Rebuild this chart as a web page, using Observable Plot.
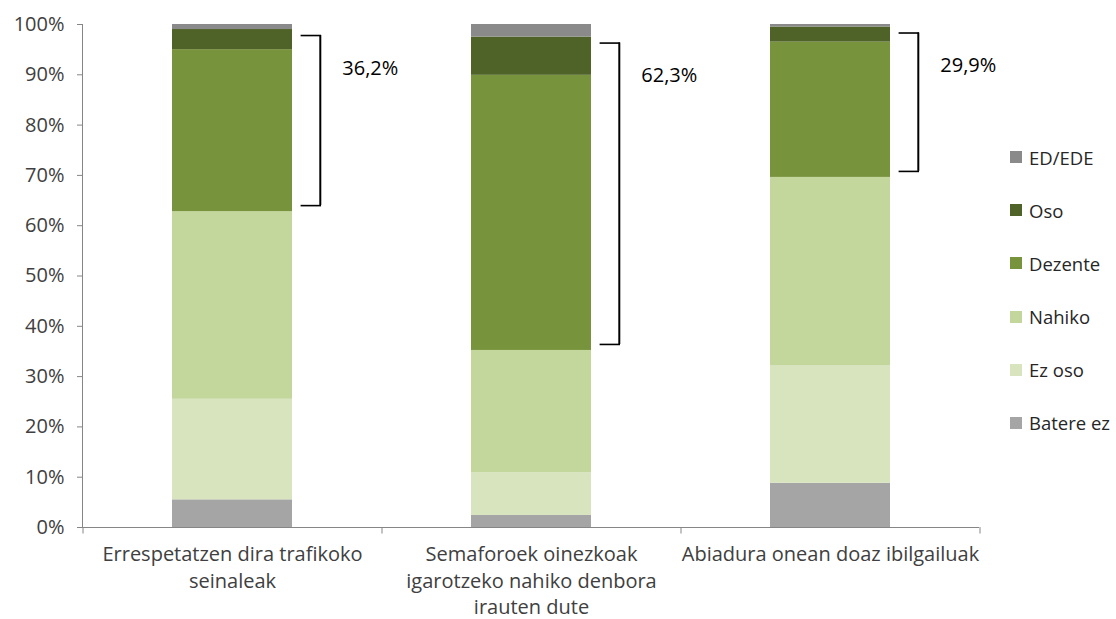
<!DOCTYPE html>
<html>
<head>
<meta charset="utf-8">
<script src="https://cdn.jsdelivr.net/npm/d3@7"></script>
<script src="https://cdn.jsdelivr.net/npm/@observablehq/plot@0.6"></script>
<style>
  html, body { margin: 0; padding: 0; background: #fff; }
  #wrap { position: relative; width: 1116px; height: 619px; font-family: "Open Sans", Lato, sans-serif; }
  #legend { position: absolute; left: 1010px; top: 144px; font-size: 18.5px; color: #262626; white-space: nowrap; }
  #legend .item { display: flex; align-items: center; height: 26px; margin-bottom: 27.2px; }
  #legend .sw { width: 12px; height: 12px; margin-right: 7px; flex: none; }
</style>
</head>
<body>
<div id="wrap"></div>
<script>
// ---- data ----
const categories = [
  "Errespetatzen dira trafikoko seinaleak",
  "Semaforoek oinezkoak igarotzeko nahiko denbora irauten dute",
  "Abiadura onean doaz ibilgailuak"
];
const tickLabels = [
  "Errespetatzen dira trafikoko\nseinaleak",
  "Semaforoek oinezkoak\nigarotzeko nahiko denbora\nirauten dute",
  "Abiadura onean doaz ibilgailuak"
];
const series = ["Batere ez", "Ez oso", "Nahiko", "Dezente", "Oso", "ED/EDE"];
const bateraEz = [5.5, 2.4, 8.8];
const ezOso    = [20.0, 8.5, 23.4];
const nahiko   = [37.3, 24.3, 37.4];
const dezente  = [32.2, 54.7, 26.9];
const oso      = [4.0, 7.6, 3.0];
const edEde    = [1.0, 2.5, 0.5];
const bracketLabels = ["36,2%", "62,3%", "29,9%"];
const yTicks = [0, 10, 20, 30, 40, 50, 60, 70, 80, 90, 100];
const colors = ["#a5a5a5", "#d7e4bd", "#c3d69b", "#77933c", "#4f6228", "#8a8a8a"];

// ---- build table ----
const valuesBySeries = [bateraEz, ezOso, nahiko, dezente, oso, edEde];
const rows = [];
series.forEach((s, si) => categories.forEach((c, ci) => rows.push({cat: c, series: s, value: valuesBySeries[si][ci]})));

// bracket spans = Dezente + Oso segment
const brackets = categories.map((c, i) => {
  const low = bateraEz[i] + ezOso[i] + nahiko[i];
  const high = low + dezente[i] + oso[i];
  return {cat: c, low, high, label: bracketLabels[i]};
});

const W = 1116, H = 619;
const mL = 82, mR = 137, mT = 24, mB = 92;
const step = (W - mL - mR) / categories.length;
const bw = step * 0.4;
const pxPerUnit = (H - mT - mB) / 100;
const hookStart = 9;   // px right of bar edge
const hookEnd = 28;
const topInset = 6 / pxPerUnit, botInset = 6 / pxPerUnit;
const FONT = "'Open Sans', Lato, sans-serif";

const bracketData = brackets.map(b => ({...b, top: b.high - topInset, bot: b.low + botInset}));

const plot = Plot.plot({
  width: W,
  height: H,
  marginLeft: mL,
  marginRight: mR,
  marginTop: mT,
  marginBottom: mB,
  style: {fontFamily: FONT, fontSize: "20px", color: "#404040", background: "#fff", overflow: "visible"},
  x: {domain: categories, paddingInner: 0.6, paddingOuter: 0.3, label: null},
  y: {domain: [0, 100], label: null},
  color: {domain: series, range: colors},
  marks: [
    Plot.barY(rows, {x: "cat", y: "value", fill: "series", order: series}),
    // axes
    Plot.axisY({ticks: yTicks, tickFormat: d => d + "%", tickSize: 5, tickPadding: 13, stroke: "#868686", fill: "#404040", label: null, fontSize: 20}),
    Plot.axisX({tickSize: 0, tickPadding: 15, tickFormat: (d) => tickLabels[categories.indexOf(d)], lineHeight: 1.32, fill: "#404040", label: null, fontSize: 20}),
    Plot.frame({anchor: "left", stroke: "#868686"}),
    Plot.ruleY([0], {stroke: "#868686"}),
    Plot.ruleX(categories, {x: d => d, y1: 0, y2: -1.3, dx: -step / 2, stroke: "#868686"}),
    Plot.ruleX([categories[categories.length - 1]], {x: d => d, y1: 0, y2: -1.3, dx: step / 2, stroke: "#868686"}),
    // brackets
    Plot.ruleX(bracketData, {x: "cat", y1: "bot", y2: "top", dx: bw / 2 + hookEnd, stroke: "#000", strokeWidth: 2}),
    Plot.tickY(bracketData, {x: "cat", y: "top", dx: bw + hookStart, insetRight: bw - (hookEnd - hookStart) - 1, stroke: "#000", strokeWidth: 1.6}),
    Plot.tickY(bracketData, {x: "cat", y: "bot", dx: bw + hookStart, insetRight: bw - (hookEnd - hookStart) - 1, stroke: "#000", strokeWidth: 1.6}),
    Plot.text(bracketData, {x: "cat", y: "top", text: "label", dx: bw / 2 + hookEnd + 22, dy: 33, textAnchor: "start", fill: "#000", fontSize: 20})
  ]
});

const wrap = document.getElementById("wrap");
wrap.appendChild(plot);

// legend (top to bottom: reverse stack order)
const legend = document.createElement("div");
legend.id = "legend";
series.slice().reverse().forEach((s) => {
  const it = document.createElement("div");
  it.className = "item";
  const sw = document.createElement("div");
  sw.className = "sw";
  sw.style.background = colors[series.indexOf(s)];
  const tx = document.createElement("span");
  tx.textContent = s;
  it.appendChild(sw); it.appendChild(tx);
  legend.appendChild(it);
});
wrap.appendChild(legend);
</script>
</body>
</html>
